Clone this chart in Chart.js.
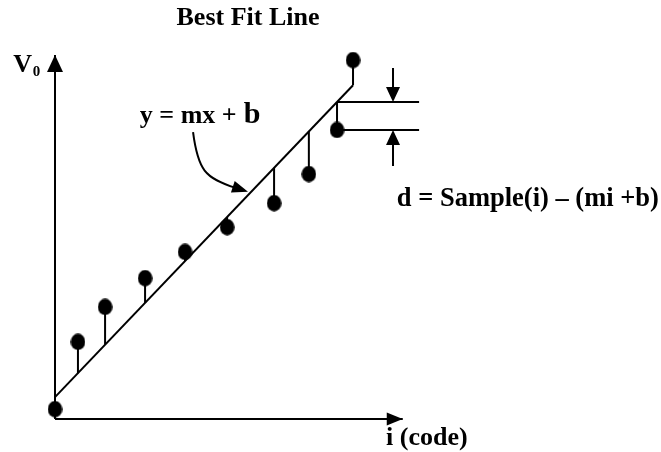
<!DOCTYPE html>
<html>
<head>
<meta charset="utf-8">
<script src="https://cdn.jsdelivr.net/npm/chart.js@4.4.1/dist/chart.umd.min.js"></script>
<style>
html,body{margin:0;padding:0;background:#fff;}
canvas{display:block;}
</style>
</head>
<body>
<canvas id="c" width="661" height="452" style="width:661px;height:452px"></canvas>
<script>
// ---- data ----
const chartTitle = 'Best Fit Line';
const sampleCodes  = [0, 6.6, 14.4, 25.9, 37.4, 49.5, 63.0, 73.0, 81.1, 85.7];
const sampleValues = [2.7, 21.2, 30.8, 38.7, 45.9, 52.7, 59.3, 67.3, 79.4, 98.6];
const fitSlope = 1.0;
const fitIntercept = 6.0;
const axisMaxCode = 100;
const axisMaxValue = 100;
const residualIndex = 8;
const residualGuideEnd = 104.7;
const residualArrowCode = 97.2;
const yAxisLabel = 'V';
const yAxisSubscript = '0';
const xAxisLabel = 'i (code)';
const fitLabelMain = 'y = mx + ';
const fitLabelB = 'b';
const residualLabel = 'd = Sample(i) \u2013 (mi +b)';

// ---- derived (through the fit) ----
const fitAt = c => fitSlope * c + fitIntercept;
const samplePoints = sampleCodes.map((c, i) => ({x: c, y: sampleValues[i]}));
const stemPoints = [];
sampleCodes.forEach((c, i) => {
  stemPoints.push({x: c, y: sampleValues[i]});
  stemPoints.push({x: c, y: fitAt(c)});
  stemPoints.push({x: c, y: null});
});
const lastCode = sampleCodes[sampleCodes.length - 1];
const fitPoints = [{x: 0, y: fitAt(0)}, {x: lastCode, y: fitAt(lastCode)}];
const rc = sampleCodes[residualIndex];
const guidePoints = [
  {x: rc, y: fitAt(rc)}, {x: residualGuideEnd, y: fitAt(rc)}, {x: rc, y: null},
  {x: rc, y: sampleValues[residualIndex]}, {x: residualGuideEnd, y: sampleValues[residualIndex]}
];
const xAxisPoints = [{x: 0, y: 0}, {x: axisMaxCode, y: 0}];
const yAxisPoints = [{x: 0, y: 0}, {x: 0, y: axisMaxValue}];

// ---- point style: filled ellipse ----
const dot = document.createElement('canvas');
dot.width = 15; dot.height = 17;
(function(){
  const g = dot.getContext('2d');
  g.fillStyle = '#000';
  g.beginPath();
  g.ellipse(7.5, 8.5, 7.3, 8.2, 0, 0, Math.PI * 2);
  g.fill();
})();

const FONT = '"Liberation Serif", "Times New Roman", serif';

function head(ctx, tx, ty, ang, len, wid) {
  ctx.save();
  ctx.translate(tx, ty);
  ctx.rotate(ang);
  ctx.beginPath();
  ctx.moveTo(0, 0);
  ctx.lineTo(-len, -wid / 2);
  ctx.lineTo(-len, wid / 2);
  ctx.closePath();
  ctx.fill();
  ctx.restore();
}

const annotations = {
  id: 'annotations',
  afterDatasetsDraw(chart) {
    const {ctx, scales} = chart;
    const X = v => scales.x.getPixelForValue(v);
    const Y = v => scales.y.getPixelForValue(v);
    ctx.save();
    ctx.fillStyle = '#000';
    ctx.strokeStyle = '#000';
    ctx.lineWidth = 2;

    // axis arrowheads
    head(ctx, X(0), Y(axisMaxValue), -Math.PI / 2, 17, 16);
    head(ctx, X(axisMaxCode), Y(0), 0, 16, 13);

    // residual arrows
    const ax = X(residualArrowCode);
    const topTip = Y(fitAt(rc));
    const botTip = Y(sampleValues[residualIndex]);
    ctx.beginPath();
    ctx.moveTo(ax, Y(96.4)); ctx.lineTo(ax, topTip - 14);
    ctx.moveTo(ax, botTip + 14); ctx.lineTo(ax, Y(69.5));
    ctx.stroke();
    head(ctx, ax, topTip, Math.PI / 2, 15, 14);
    head(ctx, ax, botTip, -Math.PI / 2, 15, 14);

    // curved pointer to the fit line
    ctx.beginPath();
    ctx.moveTo(X(39.7), Y(78.8));
    ctx.bezierCurveTo(X(41.1), Y(68.4), X(43.1), Y(66.2), X(52.0), Y(63.5));
    ctx.stroke();
    head(ctx, X(55.5), Y(62.4), Math.atan2(4, 12), 16, 12);

    // texts
    ctx.textBaseline = 'alphabetic';
    ctx.font = 'bold 26px ' + FONT;
    ctx.textAlign = 'right';
    ctx.fillText(yAxisLabel, X(-6.6), Y(95.3));
    ctx.textAlign = 'left';
    ctx.font = 'bold 15px ' + FONT;
    ctx.fillText(yAxisSubscript, X(-6.4), Y(94.2));
    ctx.font = 'bold 26px ' + FONT;
    ctx.fillText(fitLabelMain, X(24.4), Y(81.3));
    ctx.font = 'bold 30px ' + FONT;
    ctx.fillText(fitLabelB, X(54.3), Y(81.3));
    ctx.font = 'bold 26.5px ' + FONT;
    ctx.fillText(residualLabel, X(98.3), Y(58.5));
    ctx.font = 'bold 26px ' + FONT;
    ctx.fillText(xAxisLabel, X(95.2), Y(-7.1));
    ctx.restore();
  }
};

new Chart(document.getElementById('c'), {
  type: 'scatter',
  data: {
    datasets: [
      {label: 'Sample', data: samplePoints, pointStyle: dot, showLine: false, clip: false},
      {label: 'Residual', data: stemPoints, showLine: true, spanGaps: false, pointRadius: 0,
       borderColor: '#000', borderWidth: 2, clip: false},
      {label: 'Fit', data: fitPoints, showLine: true, pointRadius: 0, borderColor: '#000', borderWidth: 2, clip: false},
      {label: 'Guides', data: guidePoints, showLine: true, spanGaps: false, pointRadius: 0,
       borderColor: '#000', borderWidth: 2, clip: false},
      {label: 'x axis', data: xAxisPoints, showLine: true, pointRadius: 0, borderColor: '#000', borderWidth: 2, clip: false},
      {label: 'y axis', data: yAxisPoints, showLine: true, pointRadius: 0, borderColor: '#000', borderWidth: 2, clip: false}
    ]
  },
  options: {
    responsive: false,
    animation: false,
    devicePixelRatio: 1,
    layout: {padding: {left: 55, right: 220, top: 0, bottom: 33}},
    scales: {
      x: {type: 'linear', min: 0, max: 111, display: false},
      y: {type: 'linear', min: 0, max: 100, display: false}
    },
    plugins: {
      legend: {display: false},
      tooltip: {enabled: false},
      title: {
        display: true, text: chartTitle, color: '#000',
        font: {family: FONT, size: 26, weight: 'bold', lineHeight: 1.2},
        padding: {top: 3, bottom: 20.8}
      }
    }
  },
  plugins: [annotations]
});
</script>
</body>
</html>
